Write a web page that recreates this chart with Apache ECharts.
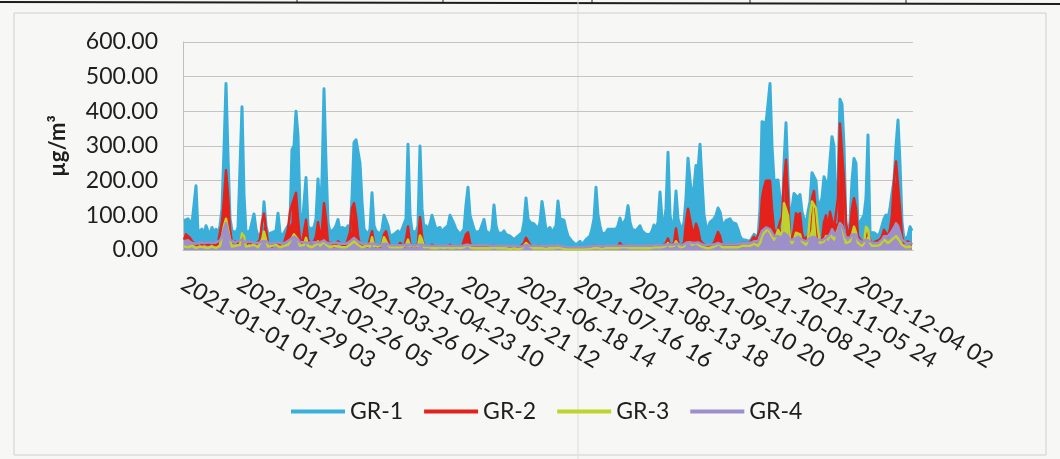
<!DOCTYPE html>
<html>
<head>
<meta charset="utf-8">
<script src="https://cdn.jsdelivr.net/npm/echarts@6/dist/echarts.min.js"></script>
<style>
html,body{margin:0;padding:0;background:#f7f7f5;}
#chart{width:1060px;height:459px;}
</style>
</head>
<body>
<div id="chart"></div>
<script>
// Daily values (one value per day of 2021)
const seriesNames = ['GR-1', 'GR-2', 'GR-3', 'GR-4'];
const seriesColors = ['#3aafd9', '#e2221b', '#c0d32c', '#9d8fca'];

const tickLabels = ['2021-01-01 01','2021-01-29 03','2021-02-26 05','2021-03-26 07','2021-04-23 10','2021-05-21 12',
  '2021-06-18 14','2021-07-16 16','2021-08-13 18','2021-09-10 20','2021-10-08 22','2021-11-05 24','2021-12-04 02'];
const hoursPerTick = 674;

const gr1 = [
  85, 80, 90, 88, 75, 70, 185, 50, 45, 60,
  40, 70, 55, 45, 65, 50, 60, 45, 70, 120,
  290, 480, 270, 90, 55, 60, 50, 65, 70, 413,
  160, 50, 45, 55, 60, 104, 60, 40, 35, 50,
  139, 70, 45, 40, 50, 45, 55, 106, 50, 40,
  45, 60, 55, 80, 290, 300, 400, 330, 110, 60,
  55, 209, 70, 60, 55, 65, 90, 205, 110, 200,
  465, 250, 80, 50, 45, 60, 70, 88, 55, 65,
  60, 60, 70, 55, 150, 310, 318, 315, 250, 140,
  60, 55, 45, 60, 165, 70, 55, 50, 45, 60,
  100, 104, 70, 40, 35, 45, 40, 55, 45, 60,
  60, 90, 305, 100, 55, 60, 50, 70, 300, 120,
  60, 70, 55, 75, 100, 95, 60, 55, 65, 50,
  60, 55, 70, 100, 95, 75, 60, 55, 45, 50,
  60, 130, 181, 100, 100, 60, 50, 45, 55, 60,
  88, 55, 50, 45, 60, 130, 70, 50, 52, 48,
  55, 45, 40, 40, 35, 30, 35, 40, 45, 50,
  80, 150, 90, 80, 85, 75, 70, 60, 80, 140,
  100, 55, 60, 65, 50, 55, 70, 141, 90, 85,
  86, 60, 40, 35, 25, 20, 15, 20, 25, 15,
  20, 30, 35, 40, 60, 90, 181, 100, 70, 45,
  40, 50, 60, 55, 60, 55, 60, 70, 92, 70,
  65, 90, 128, 80, 60, 65, 55, 60, 70, 55,
  50, 45, 40, 45, 55, 72, 60, 80, 167, 90,
  70, 120, 282, 100, 70, 80, 170, 90, 70, 60,
  80, 150, 265, 200, 150, 180, 244, 230, 305, 200,
  100, 70, 60, 80, 85, 90, 100, 121, 110, 80,
  70, 85, 86, 90, 80, 85, 75, 60, 40, 30,
  25, 28, 30, 25, 30, 45, 43, 35, 120, 370,
  372, 365, 420, 480, 300, 200, 202, 202, 150, 60,
  250, 367, 200, 60, 120, 163, 163, 150, 160, 110,
  110, 70, 110, 140, 223, 223, 200, 120, 120, 150,
  211, 211, 180, 260, 327, 300, 80, 200, 435, 420,
  300, 60, 50, 80, 200, 264, 250, 60, 80, 90,
  100, 150, 332, 50, 55, 50, 48, 40, 50, 70,
  90, 101, 90, 120, 163, 200, 300, 375, 250, 80,
  30, 25, 40, 67, 55
];

const gr2 = [
  30, 45, 40, 35, 25, 30, 15, 20, 10, 15,
  20, 25, 15, 10, 20, 15, 10, 20, 25, 80,
  150, 230, 160, 60, 20, 15, 25, 20, 15, 40,
  30, 15, 20, 25, 15, 20, 15, 10, 30, 80,
  105, 60, 20, 15, 10, 15, 20, 20, 15, 15,
  20, 25, 60, 110, 130, 135, 165, 90, 30, 20,
  25, 87, 30, 20, 15, 25, 40, 80, 40, 60,
  135, 90, 20, 15, 20, 10, 15, 25, 20, 15,
  10, 15, 20, 50, 120, 135, 100, 40, 15, 10,
  15, 20, 10, 15, 54, 20, 10, 15, 10, 20,
  45, 54, 30, 10, 5, 10, 15, 10, 20, 15,
  10, 30, 68, 20, 10, 15, 10, 20, 95, 40,
  10, 15, 8, 12, 15, 10, 8, 12, 10, 8,
  10, 12, 8, 15, 10, 8, 10, 12, 8, 10,
  15, 45, 51, 20, 10, 8, 12, 10, 8, 10,
  12, 10, 8, 10, 12, 15, 10, 8, 6, 8,
  10, 8, 6, 5, 6, 8, 5, 6, 8, 10,
  20, 35, 38, 15, 10, 8, 10, 12, 8, 10,
  8, 10, 12, 8, 6, 8, 10, 12, 10, 8,
  8, 6, 5, 4, 3, 4, 3, 4, 5, 4,
  5, 6, 5, 8, 10, 12, 15, 10, 8, 6,
  8, 10, 8, 10, 12, 10, 8, 10, 20, 12,
  10, 12, 15, 10, 8, 10, 8, 10, 12, 8,
  6, 8, 6, 8, 10, 12, 10, 12, 15, 12,
  10, 20, 33, 15, 12, 20, 62, 25, 12, 10,
  20, 80, 119, 119, 60, 50, 76, 60, 30, 20,
  15, 12, 10, 12, 15, 20, 25, 52, 40, 15,
  12, 15, 20, 15, 12, 15, 10, 12, 15, 20,
  15, 20, 25, 20, 30, 38, 25, 20, 60, 150,
  180, 200, 202, 200, 120, 60, 50, 60, 80, 96,
  200, 260, 150, 40, 30, 60, 106, 100, 106, 50,
  30, 25, 40, 60, 150, 170, 100, 30, 25, 30,
  80, 100, 60, 110, 110, 60, 60, 150, 365, 360,
  200, 80, 40, 60, 120, 149, 120, 40, 30, 20,
  25, 40, 50, 30, 20, 15, 25, 20, 30, 40,
  58, 58, 40, 60, 100, 200, 255, 250, 120, 40,
  20, 15, 25, 20, 15
];

const gr3 = [
  10, 12, 8, 10, 12, 8, 6, 8, 10, 6,
  8, 10, 6, 8, 10, 8, 6, 10, 12, 40,
  70, 90, 60, 30, 10, 8, 12, 10, 15, 48,
  40, 10, 8, 12, 10, 15, 10, 8, 12, 30,
  53, 30, 10, 8, 12, 10, 15, 12, 8, 10,
  12, 10, 15, 25, 35, 45, 48, 30, 12, 10,
  15, 35, 12, 10, 8, 12, 15, 25, 12, 15,
  25, 15, 10, 8, 10, 12, 8, 10, 12, 8,
  10, 8, 12, 15, 20, 25, 25, 15, 10, 8,
  10, 12, 8, 10, 37, 12, 8, 10, 12, 15,
  37, 35, 15, 8, 6, 8, 10, 8, 10, 8,
  8, 15, 30, 12, 8, 10, 8, 12, 42, 30,
  8, 6, 8, 5, 6, 8, 5, 6, 8, 5,
  6, 5, 8, 6, 5, 6, 8, 5, 6, 5,
  8, 10, 15, 8, 6, 5, 6, 5, 4, 5,
  6, 5, 4, 5, 6, 8, 6, 5, 4, 5,
  4, 5, 4, 3, 4, 5, 4, 3, 4, 5,
  10, 20, 22, 10, 6, 5, 6, 5, 4, 6,
  5, 4, 5, 6, 4, 5, 6, 8, 6, 5,
  4, 3, 3, 2, 2, 3, 2, 2, 3, 2,
  3, 4, 3, 4, 5, 6, 8, 6, 5, 4,
  5, 6, 5, 6, 5, 6, 5, 6, 10, 8,
  6, 8, 10, 6, 5, 6, 5, 6, 8, 5,
  4, 5, 4, 5, 6, 8, 6, 8, 10, 8,
  6, 12, 20, 10, 8, 12, 25, 15, 8, 6,
  10, 20, 25, 22, 15, 15, 20, 18, 12, 8,
  8, 6, 5, 6, 8, 10, 12, 20, 15, 8,
  6, 8, 10, 8, 6, 8, 6, 8, 10, 12,
  10, 12, 15, 12, 15, 18, 15, 12, 20, 40,
  50, 55, 60, 50, 40, 30, 40, 58, 60, 40,
  135, 140, 100, 30, 20, 30, 50, 50, 45, 25,
  20, 15, 30, 100, 140, 140, 120, 60, 20, 15,
  25, 40, 30, 45, 50, 30, 25, 60, 77, 70,
  40, 20, 15, 25, 45, 67, 50, 20, 15, 12,
  20, 67, 60, 20, 12, 10, 12, 10, 15, 20,
  30, 30, 20, 25, 30, 35, 40, 40, 25, 15,
  10, 8, 12, 10, 8
];

const gr4 = [
  25, 30, 28, 25, 20, 22, 18, 20, 22, 18,
  20, 25, 22, 18, 20, 25, 22, 20, 28, 40,
  60, 77, 50, 30, 25, 22, 20, 25, 22, 30,
  28, 22, 20, 25, 22, 20, 18, 20, 22, 25,
  30, 25, 20, 18, 22, 20, 18, 22, 20, 18,
  20, 22, 25, 30, 35, 38, 40, 30, 22, 20,
  22, 25, 20, 18, 22, 20, 22, 25, 22, 25,
  28, 22, 20, 18, 20, 22, 18, 20, 22, 18,
  20, 18, 22, 25, 30, 35, 35, 25, 20, 18,
  20, 18, 16, 18, 20, 18, 16, 15, 18, 16,
  20, 18, 16, 14, 12, 14, 16, 14, 12, 14,
  15, 16, 18, 15, 14, 12, 14, 15, 18, 15,
  14, 12, 13, 12, 14, 12, 13, 12, 14, 12,
  13, 12, 14, 12, 13, 12, 14, 12, 13, 12,
  14, 15, 16, 14, 12, 13, 12, 14, 12, 13,
  12, 14, 13, 12, 14, 12, 13, 12, 11, 12,
  11, 12, 10, 11, 10, 12, 11, 10, 12, 11,
  12, 14, 14, 12, 11, 12, 11, 12, 11, 12,
  12, 11, 12, 13, 11, 12, 13, 14, 12, 11,
  10, 9, 8, 8, 7, 8, 7, 8, 7, 8,
  8, 9, 8, 10, 11, 12, 13, 12, 11, 10,
  11, 12, 11, 12, 11, 12, 11, 12, 14, 12,
  12, 13, 14, 12, 11, 12, 11, 12, 13, 12,
  11, 12, 11, 12, 13, 14, 13, 14, 15, 14,
  14, 16, 18, 16, 15, 16, 20, 18, 15, 14,
  16, 20, 24, 22, 20, 20, 22, 22, 18, 16,
  15, 14, 15, 16, 15, 16, 18, 20, 18, 16,
  15, 16, 18, 16, 15, 16, 15, 16, 18, 20,
  18, 20, 22, 20, 22, 25, 22, 25, 40, 55,
  60, 65, 67, 60, 50, 40, 35, 40, 45, 35,
  50, 45, 40, 30, 28, 30, 35, 38, 35, 30,
  28, 25, 30, 35, 40, 38, 35, 30, 25, 28,
  30, 35, 40, 45, 60, 50, 40, 55, 77, 70,
  55, 35, 30, 35, 45, 50, 45, 30, 25, 22,
  25, 30, 35, 25, 22, 20, 22, 20, 25, 30,
  40, 45, 40, 45, 55, 65, 77, 70, 50, 30,
  25, 20, 22, 20, 18
];

const allSeries = [gr1, gr2, gr3, gr4];
const lineWidths = [3, 2.5, 2.5, 2.5];
const dayTick = hoursPerTick / 24;

const chart = echarts.init(document.getElementById('chart'), null, {renderer: 'canvas'});
const font = 'Lato, "Liberation Sans", sans-serif';

chart.setOption({
  backgroundColor: '#f7f7f5',
  animation: false,
  textStyle: {fontFamily: font},
  graphic: [
    {type: 'line', z: -1, shape: {x1: 0, y1: 2, x2: 1060, y2: 4}, style: {stroke: '#1e1e1e', lineWidth: 2}},
    {type: 'line', z: -1, shape: {x1: 297, y1: 0, x2: 297, y2: 3}, style: {stroke: '#1e1e1e', lineWidth: 1}},
    {type: 'line', z: -1, shape: {x1: 443, y1: 0, x2: 443, y2: 3}, style: {stroke: '#1e1e1e', lineWidth: 1}},
    {type: 'line', z: -1, shape: {x1: 592, y1: 0, x2: 592, y2: 3}, style: {stroke: '#1e1e1e', lineWidth: 1}},
    {type: 'line', z: -1, shape: {x1: 750, y1: 0, x2: 750, y2: 4}, style: {stroke: '#1e1e1e', lineWidth: 1}},
    {type: 'line', z: -1, shape: {x1: 906, y1: 0, x2: 906, y2: 4}, style: {stroke: '#1e1e1e', lineWidth: 1}},
    {type: 'rect', z: -1, shape: {x: 14, y: 13, width: 1032, height: 442}, style: {fill: 'none', stroke: '#cfcfcf', lineWidth: 1}},
    {type: 'line', z: -1, shape: {x1: 578, y1: 0, x2: 578, y2: 459}, style: {stroke: '#dcdcdc', lineWidth: 1}}
  ],
  grid: {left: 183, right: 147, top: 42, bottom: 209, containLabel: false},
  legend: {
    data: seriesNames,
    left: 286,
    top: 395,
    icon: 'rect',
    itemWidth: 54,
    itemHeight: 4,
    itemGap: 21,
    textStyle: {fontSize: 23, color: '#1e1e1e', fontFamily: font}
  },
  xAxis: {
    type: 'value',
    min: 0,
    max: 365,
    interval: dayTick,
    axisLine: {show: true, lineStyle: {color: '#bfbfbf'}},
    axisTick: {show: false},
    splitLine: {show: false},
    axisLabel: {
      rotate: -31,
      margin: 32,
      fontSize: 23,
      color: '#1e1e1e',
      fontFamily: font,
      showMaxLabel: false,
      formatter: function (v) {
        const k = v / dayTick;
        const i = Math.round(k);
        if (Math.abs(k - i) > 0.01 || i >= tickLabels.length) return '';
        return tickLabels[i];
      }
    }
  },
  yAxis: {
    type: 'value',
    min: 0,
    max: 600,
    interval: 100,
    name: 'µg/m³',
    nameLocation: 'middle',
    nameRotate: 90,
    nameGap: 114,
    nameTextStyle: {fontSize: 22, fontWeight: 'bold', color: '#1e1e1e', fontFamily: font},
    axisLine: {show: true, lineStyle: {color: '#bfbfbf'}},
    axisTick: {show: false},
    splitLine: {lineStyle: {color: '#c4c4c4', width: 1}},
    axisLabel: {
      margin: 25,
      fontSize: 23,
      color: '#1e1e1e',
      fontFamily: font,
      formatter: function (v) { return v.toFixed(2); }
    }
  },
  series: seriesNames.map(function (name, s) {
    return {
      name: name,
      type: 'line',
      showSymbol: false,
      symbol: 'none',
      sampling: null,
      color: seriesColors[s],
      lineStyle: {width: lineWidths[s], color: seriesColors[s], join: 'round'},
      areaStyle: {color: seriesColors[s], opacity: 1},
      data: allSeries[s].map(function (v, i) { return [i + 0.5, v]; })
    };
  })
});
</script>
</body>
</html>
